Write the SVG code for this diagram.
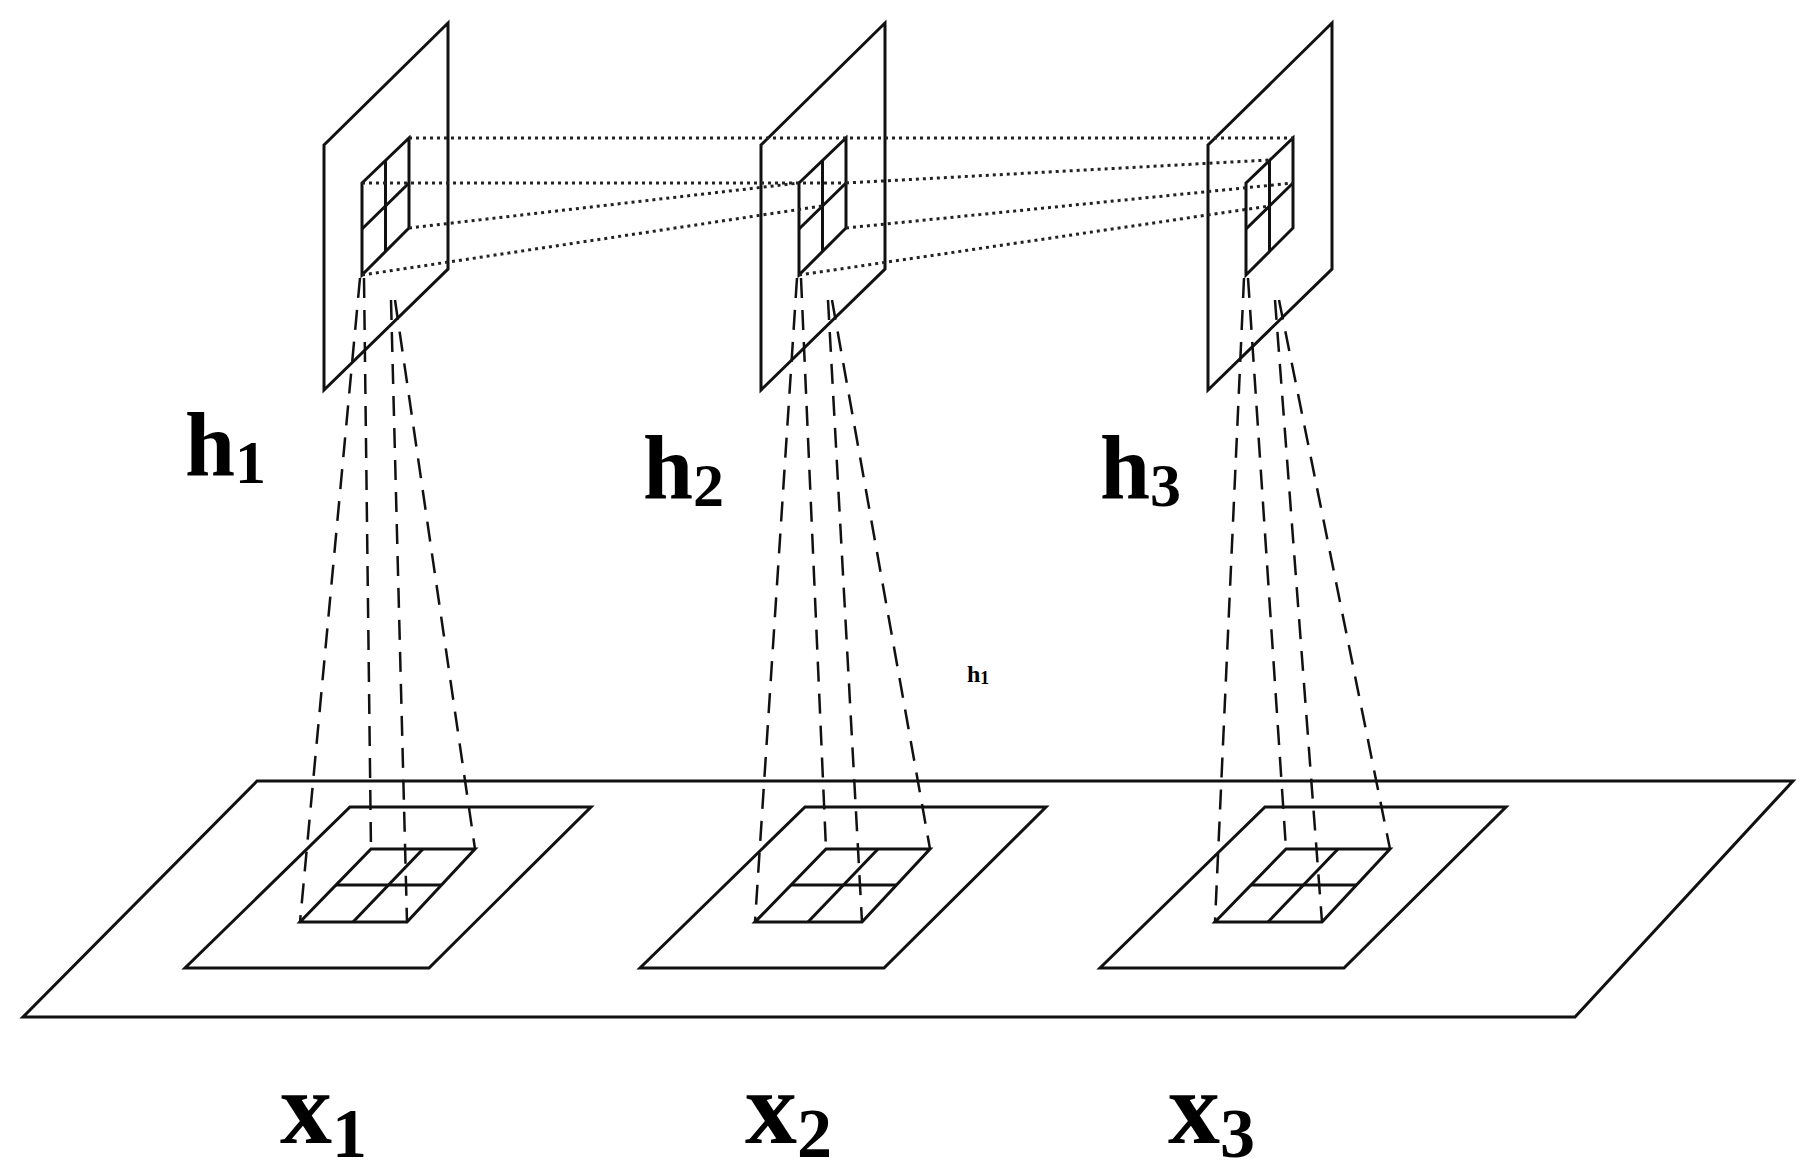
<svg xmlns="http://www.w3.org/2000/svg" width="1806" height="1171" viewBox="0 0 1806 1171">
<style>
.s{fill:none;stroke:#111;stroke-width:3;stroke-linejoin:miter}
.dot{fill:none;stroke:#222;stroke-width:3;stroke-dasharray:3 4}
.dash{fill:none;stroke:#111;stroke-width:2.5;stroke-dasharray:20 12}
text{font-family:'Liberation Serif','Times New Roman',serif;font-weight:700;fill:#000}
</style>
<defs>
<g id="toppanel">
<polygon class="s" points="324,145 448,23 448,269 324,390"/>
<polygon class="s" points="362,183 409,138 409,228 362,275"/>
<line class="s" x1="385.5" y1="160.5" x2="385.5" y2="251.5"/>
<line class="s" x1="362" y1="229" x2="409" y2="183"/>
</g>
<g id="botpanel">
<polygon class="s" points="350,807 591,807 429,968 185,968"/>
<polygon class="s" points="371,849 475,849 407,922 300,922"/>
<line class="s" x1="336" y1="885" x2="441" y2="885"/>
<line class="s" x1="423" y1="849" x2="353" y2="922"/>
</g>
<g id="beams">
<line x1="360" y1="278" x2="300" y2="922"/>
<line x1="364" y1="278" x2="371" y2="849"/>
<line x1="391" y1="300" x2="407" y2="922"/>
<line x1="395" y1="300" x2="475" y2="849"/>
</g>
</defs>
<rect width="1806" height="1171" fill="#fff"/>
<g id="input-plane"><polygon class="s" points="257,781 1793,781 1575,1017 23,1017"/></g>
<g id="x1-region"><use href="#botpanel"/></g>
<g id="x2-region"><use href="#botpanel" transform="translate(455,0)"/></g>
<g id="x3-region"><use href="#botpanel" transform="translate(915,0)"/></g>
<g id="h1-map"><use href="#toppanel"/></g>
<g id="h2-map"><use href="#toppanel" transform="translate(437,0)"/></g>
<g id="h3-map"><use href="#toppanel" transform="translate(884,0)"/></g>
<g id="connectors">
<g class="dot">
<line x1="409" y1="138" x2="1293" y2="138"/>
<line x1="362" y1="183" x2="846" y2="183"/>
<line x1="409" y1="228" x2="799" y2="183"/>
<line x1="362" y1="275" x2="822" y2="206"/>
<line x1="846" y1="183" x2="1269" y2="160"/>
<line x1="846" y1="228" x2="1293" y2="183"/>
<line x1="799" y1="275" x2="1269" y2="206"/>
</g>
<g class="dash">
<use href="#beams"/>
<g transform="translate(437,0)"><line x1="360" y1="278" x2="318" y2="922"/><line x1="364" y1="278" x2="389" y2="849"/><line x1="391" y1="300" x2="425" y2="922"/><line x1="395" y1="300" x2="493" y2="849"/></g>
<g transform="translate(884,0)"><line x1="360" y1="278" x2="331" y2="922"/><line x1="364" y1="278" x2="402" y2="849"/><line x1="391" y1="300" x2="438" y2="922"/><line x1="395" y1="300" x2="506" y2="849"/></g>
</g>
</g>
<g id="labels">
<text x="185" y="475" font-size="90">h<tspan font-size="62" dy="8">1</tspan></text>
<text x="643" y="498" font-size="90">h<tspan font-size="62" dy="8">2</tspan></text>
<text x="1100" y="498" font-size="90">h<tspan font-size="62" dy="8">3</tspan></text>
<text x="967" y="682" font-size="24">h<tspan font-size="18" dy="2">1</tspan></text>
<text x="280" y="1143" font-size="104">x<tspan font-size="70" dy="14">1</tspan></text>
<text x="745" y="1143" font-size="104">x<tspan font-size="70" dy="14">2</tspan></text>
<text x="1168" y="1143" font-size="104">x<tspan font-size="70" dy="14">3</tspan></text>
</g>
</svg>
